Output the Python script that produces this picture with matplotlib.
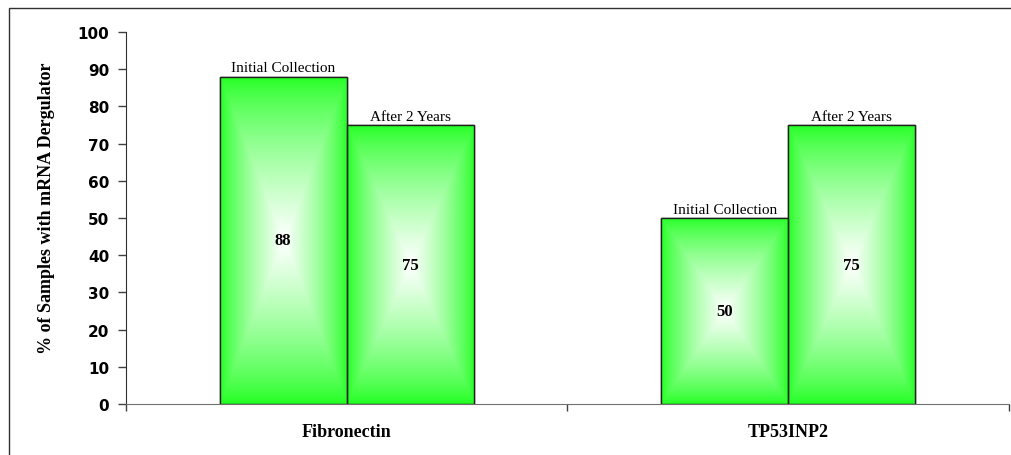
import numpy as np
import matplotlib
matplotlib.use("Agg")
import matplotlib.pyplot as plt
from matplotlib.patches import Rectangle
from matplotlib.colors import LinearSegmentedColormap

# data
genes = ["Fibronectin", "TP53INP2"]
initial = [88, 50]
after2 = [75, 75]
series_names = ["Initial Collection", "After 2 Years"]

fig = plt.figure(figsize=(10.11, 4.56), dpi=100)
ax = fig.add_axes([0.1246, 0.1118, 0.8734, 0.8158])

green = "#1eff1e"
cmap = LinearSegmentedColormap.from_list("g", [green, "#ffffff"])

width = 0.288
x = np.arange(len(genes)) + 0.5

def shaded_bars(xpos, vals, label):
    bars = ax.bar(xpos, vals, width=width, color=green, edgecolor="#202020",
                  linewidth=1.0, zorder=2)
    for b, v in zip(bars, vals):
        x0, w, h = b.get_x(), b.get_width(), b.get_height()
        # "from centre" shading: green at the edges, white in the middle
        nx, ny = 150, 400
        u = (np.arange(nx) + 0.5) / nx
        t = (np.arange(ny) + 0.5) / ny
        U, T = np.meshgrid(u, t)
        su = 1 - np.abs(2 * U - 1)
        st = 1 - np.abs(2 * T - 1)
        s = np.minimum(su, st) ** 0.75
        im = ax.imshow(s, cmap=cmap, vmin=0, vmax=1, extent=[x0, x0 + w, 0, h],
                       origin="lower", aspect="auto", zorder=2.5,
                       interpolation="bilinear")
        im.set_clip_path(b)
        ax.add_patch(Rectangle((x0, 0), w, h, fill=False, edgecolor="#202020",
                               linewidth=1.0, zorder=3))
        ax.text(x0 + w / 2, h + 0.6, label, ha="center", va="bottom",
                fontsize=11, family="Liberation Serif", zorder=4)
        ax.text(x0 + w / 2, h / 2, str(v), ha="center", va="center",
                fontsize=12, fontweight="bold", family="Liberation Serif", zorder=4)

ax.set_xlim(0, 2)
ax.set_ylim(0, 100)
shaded_bars(x - width / 2, initial, series_names[0])
shaded_bars(x + width / 2, after2, series_names[1])

ax.set_yticks(range(0, 101, 10))
ax.set_yticklabels([str(v) for v in range(0, 101, 10)], fontsize=11,
                   fontweight="bold", family="DejaVu Sans")
ax.set_xticks([0, 1, 2])
ax.set_xticklabels([])
ax.tick_params(axis="y", length=6, width=1, color="#404040", pad=6)
ax.tick_params(axis="x", length=5, width=1, color="#404040")
for i, g in enumerate(genes):
    ax.text(x[i], -5.2, g, ha="center", va="top", fontsize=13,
            fontweight="bold", family="Liberation Serif")

for sp in ["top", "right"]:
    ax.spines[sp].set_visible(False)
ax.spines["left"].set_color("#303030")
ax.spines["bottom"].set_color("#707070")

ax.set_ylabel("% of Samples with mRNA Dergulator", fontsize=13,
              fontweight="bold", family="Liberation Serif")
ax.yaxis.set_label_coords(-0.08, 0.53)

# outer chart frame (cut at right and bottom)
fig.patches.append(Rectangle((9 / 1011, -0.1), 2, 1.1 - 9 / 456, fill=False,
                             edgecolor="#303030", linewidth=1.0,
                             transform=fig.transFigure, figure=fig))

fig.savefig("out.png", dpi=100)
